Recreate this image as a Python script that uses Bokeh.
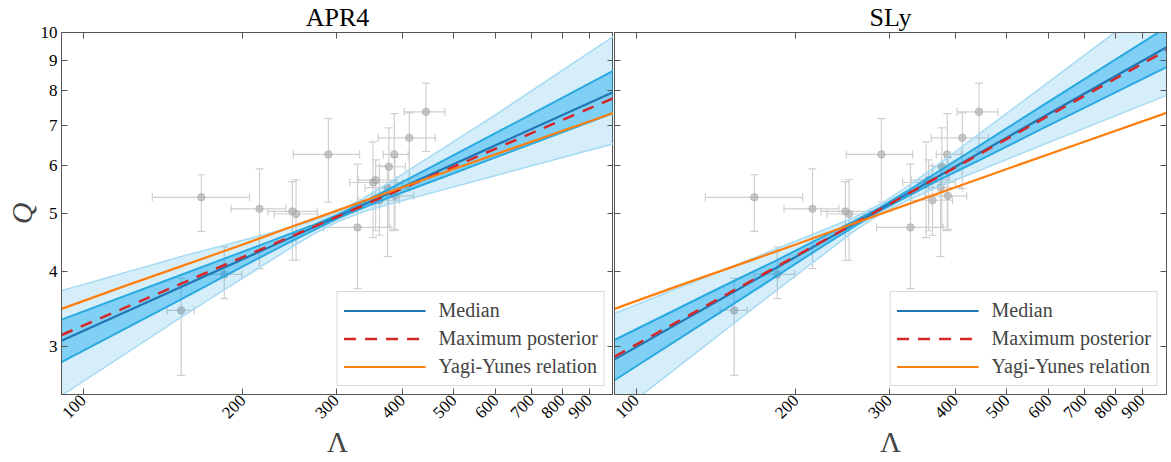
import math
from bokeh.plotting import figure
from bokeh.models import (Range1d, FixedTicker, NumeralTickFormatter, LogAxis,
                          ColumnDataSource, Whisker, TeeHead, Legend, LegendItem)
from bokeh.layouts import row
from bokeh.embed import file_html
from bokeh.resources import INLINE

# ---------------- data ----------------
titles = ["APR4", "SLy"]
x_label = "Λ"
y_label = "Q"

x_ticks = [100, 200, 300, 400, 500, 600, 700, 800, 900]
y_ticks = [3, 4, 5, 6, 7, 8, 9, 10]
x_lim = [91, 1000]
y_lim = [2.5, 10]

# straight fits (end points)
lam_line = [91, 1000]
apr4_median = [3.07, 7.96]
apr4_maxpost = [3.14, 7.78]
sly_median = [2.86, 9.45]
sly_maxpost = [2.89, 9.34]

# Yagi-Yunes relation (same in both panels)
yy_lam = [91, 120, 150, 200, 250, 300, 400, 500, 700, 1000]
yy_q = [3.47, 3.79, 4.06, 4.44, 4.77, 5.05, 5.53, 5.93, 6.58, 7.35]

# credible bands, APR4
apr4_band_lam = [91, 151.4, 190.5, 239.9, 269.2, 302.0, 338.8, 380.2, 478.6, 602.6, 1000]
apr4_outer_hi = [3.72, 4.23, 4.46, 4.71, 4.85, 5.03, 5.31, 5.65, 6.43, 7.32, 9.85]
apr4_outer_lo = [2.49, 3.34, 3.80, 4.32, 4.60, 4.85, 5.04, 5.19, 5.48, 5.79, 6.53]
apr4_inner_hi = [3.33, 3.94, 4.25, 4.59, 4.77, 4.98, 5.23, 5.51, 6.13, 6.82, 8.64]
apr4_inner_lo = [2.83, 3.58, 3.99, 4.44, 4.67, 4.91, 5.12, 5.33, 5.75, 6.21, 7.35]

# credible bands, SLy
sly_band_lam = [91, 144.5, 182.0, 229.1, 257.0, 288.4, 323.6, 363.1, 457.1, 575.4, 1000]
sly_outer_hi = [3.41, 4.01, 4.35, 4.72, 4.92, 5.18, 5.53, 5.95, 6.92, 8.05, 11.6]
sly_outer_lo = [2.30, 3.16, 3.70, 4.32, 4.67, 4.99, 5.25, 5.49, 5.96, 6.47, 7.86]
sly_inner_hi = [3.08, 3.77, 4.16, 4.61, 4.85, 5.12, 5.44, 5.80, 6.59, 7.50, 10.2]
sly_inner_lo = [2.64, 3.43, 3.91, 4.46, 4.75, 5.05, 5.33, 5.62, 6.21, 6.88, 8.76]

# measured points with error bars
pt_lam = [167, 215, 248, 252, 184.5, 153, 290, 329, 352, 356, 377, 386, 412, 443, 375, 387, 362]
pt_q = [5.32, 5.09, 5.04, 4.99, 3.96, 3.45, 6.27, 4.74, 5.63, 5.68, 5.98, 6.27, 6.68, 7.38, 5.52, 5.35, 5.26]
pt_lam_lo = [135, 190, 223, 229, 167, 144, 249, 284, 318, 330, 362, 368, 360, 403, 340, 350, 330]
pt_lam_hi = [206, 241, 276, 277, 199, 162, 332, 379, 400, 390, 405, 410, 461, 481, 412, 420, 395]
pt_q_lo = [4.67, 4.05, 4.18, 4.18, 3.61, 2.69, 5.22, 3.75, 4.56, 4.68, 4.74, 4.68, 5.50, 6.34, 4.24, 4.70, 4.60]
pt_q_hi = [5.80, 5.93, 5.65, 5.69, 4.40, 3.90, 7.19, 6.04, 6.58, 6.14, 6.94, 7.33, 7.35, 8.24, 6.00, 6.20, 6.00]

# ---------------- style ----------------
FONT = "Liberation Serif"
SPINE = "#555555"
OUTER_FILL = "#0096e0"
INNER_FILL = "#00a3ee"
OUTER_EDGE = "#a9dcf4"
INNER_EDGE = "#2aa9e0"
C_MED = "#1f77b4"
C_MAX = "#d62728"
C_YY = "#ff7f0e"
C_PT = "#a8a8a8"
C_ERR = "#cfcfcf"

OVERLAP = 8


def style_axis(ax, ticks, labels):
    ax.ticker = FixedTicker(ticks=ticks, minor_ticks=[])
    ax.formatter = NumeralTickFormatter(format="0")
    ax.major_tick_in = 6
    ax.major_tick_out = 0
    ax.minor_tick_in = 0
    ax.minor_tick_out = 0
    ax.axis_line_color = SPINE
    ax.major_tick_line_color = SPINE
    ax.major_label_text_font = FONT
    ax.major_label_text_font_size = "17px"
    ax.major_label_standoff = 4
    ax.major_label_text_color = "black" if labels else None


def make_panel(idx, band_lam, o_lo, o_hi, i_lo, i_hi, med, mxp):
    left = idx == 0
    p = figure(x_axis_type="log", y_axis_type="log",
               x_range=Range1d(x_lim[0], x_lim[1]), y_range=Range1d(y_lim[0], y_lim[1]),
               frame_width=552, frame_height=362,
               min_border_left=61 if left else OVERLAP + 1, min_border_right=0 if left else 4,
               min_border_top=31, min_border_bottom=68,
               output_backend="svg", toolbar_location=None,
               background_fill_color="white",
               border_fill_color="white", border_fill_alpha=1.0 if left else 0.0,
               title=titles[idx])
    p.title.align = "center"
    p.title.text_font = FONT
    p.title.text_font_size = "26px"
    p.title.text_font_style = "normal"
    p.title.text_color = "black"
    p.title.standoff = 1
    p.outline_line_color = SPINE
    p.xgrid.visible = False
    p.ygrid.visible = False

    xa = p.xaxis[0]
    style_axis(xa, x_ticks, True)
    xa.major_label_orientation = math.pi / 4
    xa.major_label_standoff = 3
    xa.axis_label = x_label
    xa.axis_label_text_font = FONT
    xa.axis_label_text_font_size = "29px"
    xa.axis_label_text_font_style = "normal"
    xa.axis_label_standoff = 0

    ya = p.yaxis[0]
    style_axis(ya, y_ticks, left)
    if left:
        ya.axis_label = y_label
        ya.axis_label_text_font = FONT
        ya.axis_label_text_font_size = "30px"
        ya.axis_label_text_font_style = "italic"
        ya.axis_label_standoff = 0

    top = LogAxis()
    style_axis(top, x_ticks, False)
    p.add_layout(top, "above")
    right = LogAxis()
    style_axis(right, y_ticks, False)
    p.add_layout(right, "right")

    # points with error bars
    src = ColumnDataSource(dict(lam=pt_lam, q=pt_q, lam_lo=pt_lam_lo, lam_hi=pt_lam_hi,
                                q_lo=pt_q_lo, q_hi=pt_q_hi))
    for dim, base, lo, hi in (("height", "lam", "q_lo", "q_hi"), ("width", "q", "lam_lo", "lam_hi")):
        w = Whisker(source=src, base=base, lower=lo, upper=hi, dimension=dim,
                    line_color=C_ERR, line_width=1.2,
                    upper_head=TeeHead(size=8, line_color=C_ERR, line_width=1.2),
                    lower_head=TeeHead(size=8, line_color=C_ERR, line_width=1.2))
        p.add_layout(w)
    p.scatter("lam", "q", source=src, size=7.5, color=C_PT, alpha=0.6)

    # bands
    bsrc = ColumnDataSource(dict(lam=band_lam, o_lo=o_lo, o_hi=o_hi, i_lo=i_lo, i_hi=i_hi))
    p.varea(x="lam", y1="o_lo", y2="o_hi", source=bsrc, fill_color=OUTER_FILL, fill_alpha=0.16)
    p.line("lam", "o_lo", source=bsrc, line_color=OUTER_EDGE, line_width=1.6)
    p.line("lam", "o_hi", source=bsrc, line_color=OUTER_EDGE, line_width=1.6)
    p.varea(x="lam", y1="i_lo", y2="i_hi", source=bsrc, fill_color=INNER_FILL, fill_alpha=0.40)
    p.line("lam", "i_lo", source=bsrc, line_color=INNER_EDGE, line_width=2)
    p.line("lam", "i_hi", source=bsrc, line_color=INNER_EDGE, line_width=2)

    r_med = p.line(lam_line, med, line_color=C_MED, line_width=2.2)
    r_max = p.line(lam_line, mxp, line_color=C_MAX, line_width=2.5, line_dash="12 9")
    r_yy = p.line(yy_lam, yy_q, line_color=C_YY, line_width=2.2)

    legend = Legend(items=[LegendItem(label="Median", renderers=[r_med]),
                           LegendItem(label="Maximum posterior", renderers=[r_max]),
                           LegendItem(label="Yagi-Yunes relation", renderers=[r_yy])],
                    location="bottom_right", margin=8, padding=6, spacing=3,
                    glyph_width=82, glyph_height=25, label_height=25, label_standoff=13,
                    label_text_font=FONT, label_text_font_size="20px",
                    border_line_color="#b5b5b5", border_line_width=1,
                    background_fill_color="white", background_fill_alpha=1.0)
    p.add_layout(legend)
    if not left:
        p.styles = {"margin-left": f"-{OVERLAP}px"}
    return p


p1 = make_panel(0, apr4_band_lam, apr4_outer_lo, apr4_outer_hi, apr4_inner_lo, apr4_inner_hi,
                apr4_median, apr4_maxpost)
p2 = make_panel(1, sly_band_lam, sly_outer_lo, sly_outer_hi, sly_inner_lo, sly_inner_hi,
                sly_median, sly_maxpost)

layout = row(p1, p2)
open("out.html", "w").write(file_html(layout, INLINE))
